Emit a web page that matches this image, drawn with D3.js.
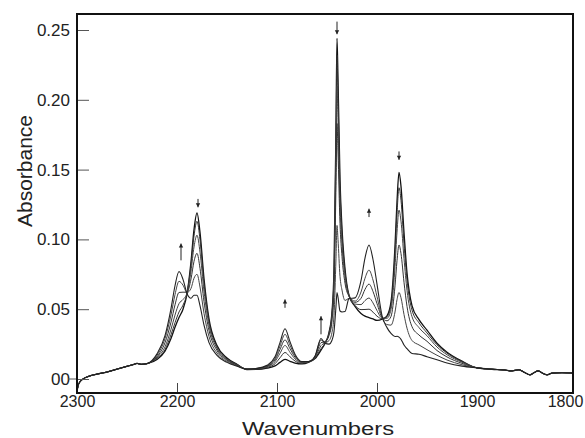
<!DOCTYPE html>
<html>
<head>
<meta charset="utf-8">
<script src="https://cdn.jsdelivr.net/npm/d3@7"></script>
<style>
  body { margin: 0; background: #fff; }
  svg { display: block; }
</style>
</head>
<body>
<div id="chart"></div>
<script>
// wavenumber grid shared by all spectra on the left and right flanks
var wnLeft  = [2300, 2299, 2297, 2294, 2288, 2280, 2270, 2258, 2248, 2243, 2240, 2236, 2230];
var absLeft = [-0.009, -0.005, -0.002, 0.0, 0.002, 0.0035, 0.005, 0.0075, 0.0095, 0.0105, 0.0112, 0.0105, 0.011];

var wnRight  = [1900, 1885, 1872, 1866, 1858, 1852, 1847, 1843, 1839, 1834, 1830, 1825, 1815, 1804];
var absRight = [0.008, 0.007, 0.0064, 0.0058, 0.0066, 0.0045, 0.003, 0.0045, 0.0058, 0.004, 0.003, 0.0042, 0.0045, 0.0043];

// grid where the spectra differ
var wnMid = [2220, 2212, 2206, 2202, 2198, 2194, 2190, 2186, 2183, 2180,
             2177, 2173, 2168, 2160, 2150, 2140, 2130, 2120, 2110, 2102,
             2097, 2092, 2087, 2082, 2075, 2068, 2062, 2056, 2052, 2048,
             2045, 2043, 2041, 2040, 2039, 2037, 2035, 2032, 2028, 2022,
             2016, 2012, 2008, 2004, 2000, 1995, 1990, 1986, 1982, 1980,
             1978, 1976, 1973, 1970, 1965, 1958, 1950, 1940, 1930, 1915];

var spec1 = [0.014, 0.020, 0.029, 0.037, 0.044, 0.050, 0.061, 0.084, 0.107, 0.119,
             0.105, 0.072, 0.043, 0.024, 0.015, 0.0105, 0.0068, 0.0069, 0.0078, 0.0094,
             0.0119, 0.014, 0.0127, 0.0114, 0.0108, 0.0121, 0.0146, 0.0207, 0.0254, 0.0333,
             0.0482, 0.0784, 0.182, 0.244, 0.215, 0.143, 0.108, 0.079, 0.060, 0.052,
             0.047, 0.045, 0.044, 0.043, 0.042, 0.0428, 0.0453, 0.0552, 0.0953, 0.127,
             0.148, 0.138, 0.105, 0.076, 0.0525, 0.0425, 0.035, 0.0256, 0.0192, 0.0128];
var spec2 = [0.015, 0.021, 0.0318, 0.0403, 0.048, 0.0529, 0.0615, 0.0816, 0.1025, 0.113,
             0.0998, 0.0684, 0.0413, 0.0229, 0.0144, 0.0104, 0.0069, 0.0071, 0.0083, 0.0109,
             0.0152, 0.019, 0.0159, 0.0129, 0.0113, 0.0123, 0.0149, 0.0218, 0.0257, 0.0329,
             0.0469, 0.0755, 0.174, 0.232, 0.204, 0.137, 0.104, 0.077, 0.0598, 0.0527,
             0.0497, 0.0498, 0.050, 0.0479, 0.045, 0.0432, 0.0446, 0.053, 0.0893, 0.1183,
             0.137, 0.128, 0.0972, 0.0709, 0.0494, 0.0402, 0.033, 0.0245, 0.0185, 0.0125];
var spec3 = [0.0155, 0.023, 0.0356, 0.0458, 0.054, 0.0569, 0.0617, 0.0773, 0.0946, 0.103,
             0.0909, 0.0628, 0.0385, 0.0218, 0.0139, 0.0101, 0.007, 0.0073, 0.0088, 0.0124,
             0.0184, 0.024, 0.0191, 0.0144, 0.0117, 0.0125, 0.0154, 0.0239, 0.0263, 0.0321,
             0.0446, 0.0702, 0.158, 0.210, 0.1856, 0.1254, 0.0966, 0.0732, 0.0597, 0.0537,
             0.0533, 0.0562, 0.058, 0.0545, 0.049, 0.0437, 0.0435, 0.0498, 0.0805, 0.1052,
             0.121, 0.1131, 0.0863, 0.0635, 0.0447, 0.0368, 0.031, 0.0229, 0.0174, 0.012];
var spec4 = [0.016, 0.026, 0.0407, 0.0531, 0.062, 0.0622, 0.0621, 0.0717, 0.0843, 0.090,
             0.0793, 0.0555, 0.0348, 0.0204, 0.0134, 0.0099, 0.0071, 0.0075, 0.0092, 0.0136,
             0.0211, 0.028, 0.0217, 0.0156, 0.0121, 0.0126, 0.016, 0.026, 0.0268, 0.0311,
             0.0416, 0.0636, 0.1388, 0.183, 0.1626, 0.1114, 0.0877, 0.0687, 0.0592, 0.0549,
             0.0578, 0.0642, 0.068, 0.0627, 0.054, 0.0441, 0.0417, 0.0448, 0.0667, 0.0847,
             0.096, 0.0898, 0.0693, 0.052, 0.0375, 0.0315, 0.027, 0.0204, 0.0158, 0.0112];
var spec5 = [0.017, 0.029, 0.0459, 0.0604, 0.070, 0.0672, 0.0619, 0.0649, 0.0722, 0.075,
             0.0659, 0.047, 0.0304, 0.0186, 0.0126, 0.0095, 0.0071, 0.0076, 0.0095, 0.0148,
             0.0236, 0.032, 0.0242, 0.0166, 0.0122, 0.0126, 0.0162, 0.028, 0.0261, 0.0275,
             0.0334, 0.0457, 0.0865, 0.110, 0.0999, 0.0736, 0.0637, 0.0563, 0.0577, 0.0558,
             0.0623, 0.0722, 0.078, 0.0709, 0.059, 0.0443, 0.039, 0.0386, 0.048, 0.0568,
             0.062, 0.0582, 0.0462, 0.0364, 0.0276, 0.0244, 0.021, 0.017, 0.0136, 0.0102];
var spec6 = [0.018, 0.031, 0.0504, 0.0668, 0.077, 0.0714, 0.0612, 0.0578, 0.060, 0.060,
             0.0525, 0.0386, 0.0261, 0.0169, 0.0119, 0.0091, 0.0071, 0.0076, 0.0098, 0.0159,
             0.0261, 0.036, 0.0267, 0.0178, 0.0125, 0.0125, 0.0164, 0.029, 0.0256, 0.025,
             0.0278, 0.0339, 0.052, 0.062, 0.0587, 0.0487, 0.048, 0.0483, 0.0576, 0.0581,
             0.0704, 0.0866, 0.096, 0.0856, 0.068, 0.0454, 0.0368, 0.0326, 0.0304, 0.0306,
             0.030, 0.0284, 0.0244, 0.0217, 0.0183, 0.0177, 0.016, 0.0138, 0.0115, 0.0092];

var spectra = [spec1, spec2, spec3, spec4, spec5, spec6];

// band markers: wavenumber, absorbance of tail and of tip
var markWn   = [2196, 2179, 2092, 2056, 2040, 2008, 1978];
var markFrom = [0.085, 0.129, 0.051, 0.032, 0.256, 0.116, 0.163];
var markTo   = [0.097, 0.123, 0.057, 0.045, 0.247, 0.122, 0.157];

var xTicks = [2300, 2200, 2100, 2000, 1900, 1800];
var xTickMarks = [2200, 2100, 2000];
var yTicks = [0, 0.05, 0.10, 0.15, 0.20, 0.25];

var W = 585, H = 438;
var margins = {left: 77, right: 12, top: 14, bottom: 45};

var svg = d3.select('#chart').append('svg')
    .attr('width', W).attr('height', H);

var x = d3.scaleLinear().domain([2300, 1800]).range([77, 577]);
var y = d3.scaleLinear().domain([0, 0.25]).range([379, 30]);

var plotL = margins.left, plotR = W - margins.right, plotT = margins.top, plotB = H - margins.bottom;

var line = d3.line()
    .x(function(d) { return x(d[0]); })
    .y(function(d) { return y(d[1]); })
    .curve(d3.curveMonotoneX);

svg.append('clipPath').attr('id', 'plotclip').append('rect')
    .attr('x', plotL).attr('y', plotT).attr('width', plotR - plotL).attr('height', plotB - plotT);

var g = svg.append('g').attr('clip-path', 'url(#plotclip)');

var strokes = ['#111', '#333', '#444', '#333', '#444', '#222'];
var widths = [1.3, 1.0, 1.0, 1.0, 1.0, 1.1];

spectra.forEach(function(s, i) {
    var pts = [];
    wnLeft.forEach(function(w, j) { pts.push([w, absLeft[j]]); });
    wnMid.forEach(function(w, j) { pts.push([w, s[j]]); });
    wnRight.forEach(function(w, j) { pts.push([w, absRight[j]]); });
    g.append('path')
        .attr('d', line(pts))
        .attr('fill', 'none')
        .attr('stroke', strokes[i])
        .attr('stroke-width', widths[i])
        .attr('stroke-linejoin', 'round');
});

// y axis, ticks pointing inward
var yAxis = d3.axisLeft(y).tickValues(yTicks).tickSizeInner(-12).tickSizeOuter(0).tickPadding(7)
    .tickFormat(function(d) { return d === 0 ? '00' : d3.format('.2f')(d); });
var ya = svg.append('g').attr('transform', 'translate(' + plotL + ',0)').call(yAxis);
ya.select('.domain').remove();
ya.selectAll('line').attr('stroke', '#555').attr('stroke-width', 1);
ya.selectAll('text').attr('font-family', '"Liberation Sans Narrow", "Arial Narrow", "Liberation Sans", sans-serif')
    .attr('font-size', 17).attr('fill', '#222');

svg.append('line')
    .attr('x1', plotL - 9).attr('x2', plotL).attr('y1', y(0)).attr('y2', y(0))
    .attr('stroke', '#555').attr('stroke-width', 1);

// x axis
var xAxis = d3.axisBottom(x).tickValues(xTicks).tickSizeInner(-10).tickSizeOuter(0).tickPadding(3)
    .tickFormat(d3.format('d'));
var xa = svg.append('g').attr('transform', 'translate(0,' + plotB + ')').call(xAxis);
xa.select('.domain').remove();
xa.selectAll('line').attr('stroke', '#444').attr('stroke-width', 1)
    .attr('display', function(d) { return xTickMarks.indexOf(d) < 0 ? 'none' : null; });
xa.selectAll('text').attr('font-family', '"Liberation Sans Narrow", "Arial Narrow", "Liberation Sans", sans-serif')
    .attr('font-size', 16).attr('fill', '#222')
    .attr('x', function(d) { return d === 1800 ? -12 : 0; });

// frame
svg.append('rect')
    .attr('x', plotL).attr('y', plotT).attr('width', plotR - plotL).attr('height', plotB - plotT)
    .attr('fill', 'none').attr('stroke', '#111').attr('stroke-width', 2);

// arrows over the bands
markWn.forEach(function(w, i) {
    var y0 = y(markFrom[i]), y1 = y(markTo[i]), cx = x(w);
    var dir = y1 < y0 ? -1 : 1;
    svg.append('line')
        .attr('x1', cx).attr('x2', cx).attr('y1', y0).attr('y2', y1)
        .attr('stroke', '#222').attr('stroke-width', 1);
    svg.append('path')
        .attr('d', 'M' + (cx - 2.2) + ',' + (y1 - dir * 4) + 'L' + cx + ',' + y1 + 'L' + (cx + 2.2) + ',' + (y1 - dir * 4) + 'Z')
        .attr('fill', '#222');
});

// axis titles
svg.append('text')
    .attr('transform', 'translate(32,171) rotate(-90)')
    .attr('text-anchor', 'middle')
    .attr('font-family', '"Liberation Sans", Arial, sans-serif')
    .attr('font-size', 21).attr('fill', '#222')
    .text('Absorbance');

svg.append('text')
    .attr('x', 318).attr('y', 435)
    .attr('text-anchor', 'middle')
    .attr('font-family', '"Liberation Sans", Arial, sans-serif')
    .attr('font-size', 18).attr('fill', '#222')
    .attr('textLength', 152).attr('lengthAdjust', 'spacingAndGlyphs')
    .text('Wavenumbers');
</script>
</body>
</html>
